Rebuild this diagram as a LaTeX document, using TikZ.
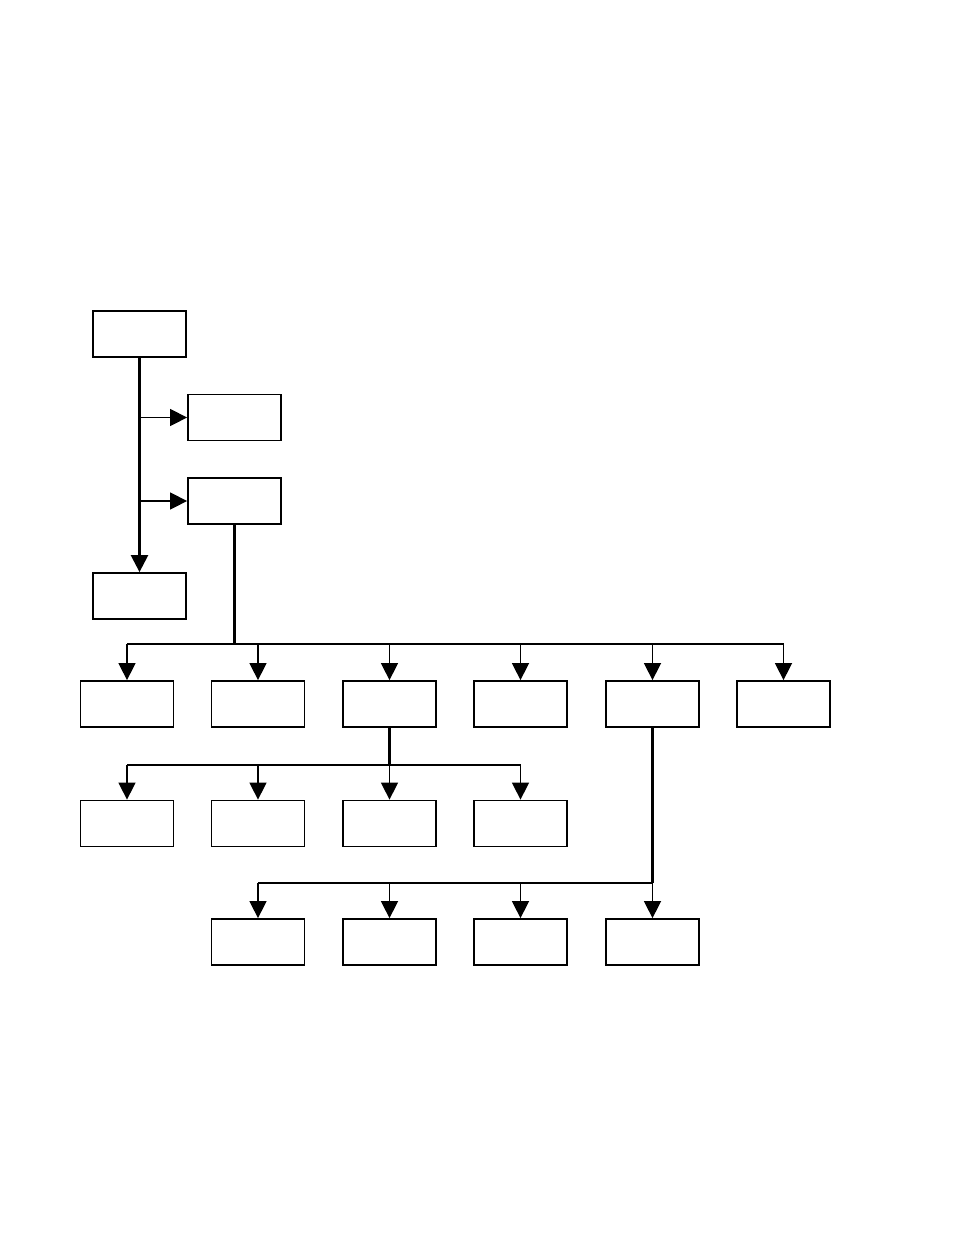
\documentclass[tikz,border=0pt]{standalone}
\usetikzlibrary{arrows.meta}

\tikzset{
  blank/.style={draw, line width=1.8pt, minimum width=93pt, minimum height=46pt, inner sep=0pt},
  trunk/.style={line width=2.4pt},
  link/.style={line width=1.5pt},
  feed/.style={link, -{Triangle[length=17pt,width=17pt]}},
}

\begin{document}
\begin{tikzpicture}[x=1pt,y=-1pt]

\useasboundingbox (0,0) rectangle (954,1235);

% top column
\node[blank] (root) at (139.5,334) {};
\node[blank] (sideA) at (234.5,417.5) {};
\node[blank] (sideB) at (234.5,501) {};
\node[blank] (foot) at (139.5,596) {};

% first row
\foreach \n/\x in {a/127, b/258, c/389.5, d/520.5, e/652.5, f/783.5}
  \node[blank] (one\n) at (\x,704) {};

% second row
\foreach \n/\x in {a/127, b/258, c/389.5, d/520.5}
  \node[blank] (two\n) at (\x,823.5) {};

% third row
\foreach \n/\x in {b/258, c/389.5, d/520.5, e/652.5}
  \node[blank] (three\n) at (\x,942) {};

% root to its children
\draw[trunk, -{Triangle[length=17pt,width=17pt]}] (root.south) -- (foot.north);
\draw[feed] (root.south |- sideA.west) -- (sideA.west);
\draw[feed] (root.south |- sideB.west) -- (sideB.west);

% sideB to first row
\coordinate (busA) at (234.5,644);
\draw[trunk] (sideB.south) -- (busA);
\draw[link] (busA -| onea.north) -- (busA -| onef.north);
\foreach \n in {a,b,c,d,e,f}
  \draw[feed] (busA -| one\n.north) -- (one\n.north);

% onec to second row
\coordinate (busB) at (389.5,765);
\draw[trunk] (onec.south) -- (busB);
\draw[link] (busB -| twoa.north) -- (busB -| twod.north);
\foreach \n in {a,b,c,d}
  \draw[feed] (busB -| two\n.north) -- (two\n.north);

% onee to third row
\coordinate (busC) at (652.5,883);
\draw[trunk] (onee.south) -- (busC);
\draw[link] (busC -| threeb.north) -- (busC -| threee.north);
\foreach \n in {b,c,d,e}
  \draw[feed] (busC -| three\n.north) -- (three\n.north);

\end{tikzpicture}
\end{document}
